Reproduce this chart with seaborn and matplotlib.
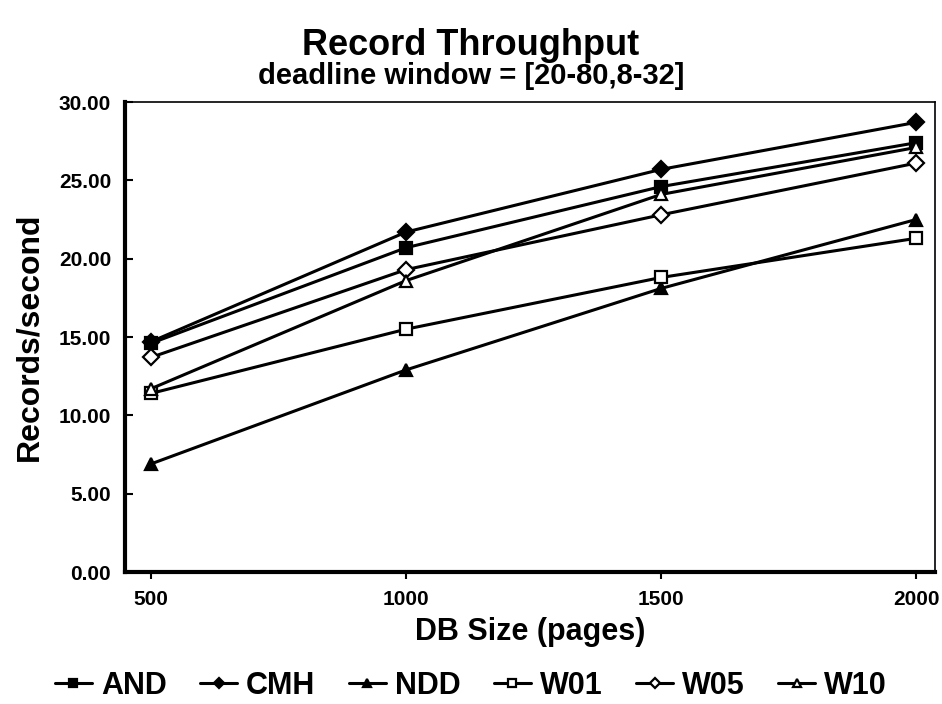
import pandas as pd
import matplotlib
matplotlib.use('Agg')
import matplotlib.pyplot as plt
import seaborn as sns

# Data
db_sizes = [500, 1000, 1500, 2000]
and_vals = [14.6, 20.7, 24.6, 27.4]
cmh_vals = [14.7, 21.7, 25.7, 28.7]
ndd_vals = [6.9, 12.9, 18.1, 22.5]
w01_vals = [11.4, 15.5, 18.8, 21.3]
w05_vals = [13.7, 19.3, 22.8, 26.1]
w10_vals = [11.7, 18.6, 24.1, 27.1]

series_names = ['AND', 'CMH', 'NDD', 'W01', 'W05', 'W10']
series_vals = [and_vals, cmh_vals, ndd_vals, w01_vals, w05_vals, w10_vals]
y_ticks = [0, 5, 10, 15, 20, 25, 30]

sns.set_theme(style='white')
plt.rcParams['font.family'] = ['Liberation Sans', 'DejaVu Sans']
plt.rcParams['font.weight'] = 'bold'
for key in ['text.color', 'axes.labelcolor', 'xtick.color', 'ytick.color']:
    plt.rcParams[key] = 'black'

rows = []
for name, vals in zip(series_names, series_vals):
    for x, y in zip(db_sizes, vals):
        rows.append({'DB Size': x, 'Records': y, 'Series': name})
df = pd.DataFrame(rows)

markers = {'AND': 's', 'CMH': 'D', 'NDD': '^', 'W01': 's', 'W05': 'D', 'W10': '^'}
filled = {'AND': True, 'CMH': True, 'NDD': True, 'W01': False, 'W05': False, 'W10': False}
sizes = {'s': 8, 'D': 8, '^': 9}

fig = plt.figure(figsize=(9.42, 7.04), dpi=100)
ax = fig.add_axes([0.1327, 0.1875, 0.8599, 0.6676])

for name in series_names:
    sub = df[df['Series'] == name]
    m = markers[name]
    sns.lineplot(data=sub, x='DB Size', y='Records', ax=ax, color='black',
                 linewidth=2.2, marker=m, markersize=sizes[m],
                 markerfacecolor='black' if filled[name] else 'white',
                 markeredgecolor='black', markeredgewidth=1.6,
                 label=name)

ax.set_xlim(449, 2037)
ax.set_ylim(0, 30)
ax.set_xticks(db_sizes)
ax.set_xticklabels([str(v) for v in db_sizes], fontsize=15, fontweight='bold')
ax.set_yticks(y_ticks)
ax.set_yticklabels([f'{v:.2f}' for v in y_ticks], fontsize=15, fontweight='bold')
ax.tick_params(axis='y', direction='in', length=6, width=1.5, left=True, pad=10)
ax.tick_params(axis='x', direction='out', length=5, width=1.5, bottom=True, pad=8)

for side in ['left', 'bottom']:
    ax.spines[side].set_linewidth(3)
    ax.spines[side].set_color('black')
for side in ['top', 'right']:
    ax.spines[side].set_linewidth(1.2)
    ax.spines[side].set_color('black')

ax.set_xlabel('DB Size (pages)', fontsize=22, fontweight='bold', labelpad=6)
ax.set_ylabel('Records/second', fontsize=23, fontweight='bold', labelpad=10)

fig.text(0.5, 0.935, 'Record Throughput', ha='center', va='center',
         fontsize=26, fontweight='bold')
fig.text(0.5, 0.892, 'deadline window = [20-80,8-32]', ha='center', va='center',
         fontsize=21, fontweight='bold')

leg = ax.legend(loc='center', bbox_to_anchor=(0.5, 0.026), bbox_transform=fig.transFigure,
                ncol=6, frameon=False, handlelength=1.2, handletextpad=0.3,
                columnspacing=1.1, markerscale=0.7, prop={'size': 22, 'weight': 'bold'})

plt.savefig('out.png', dpi=100)
